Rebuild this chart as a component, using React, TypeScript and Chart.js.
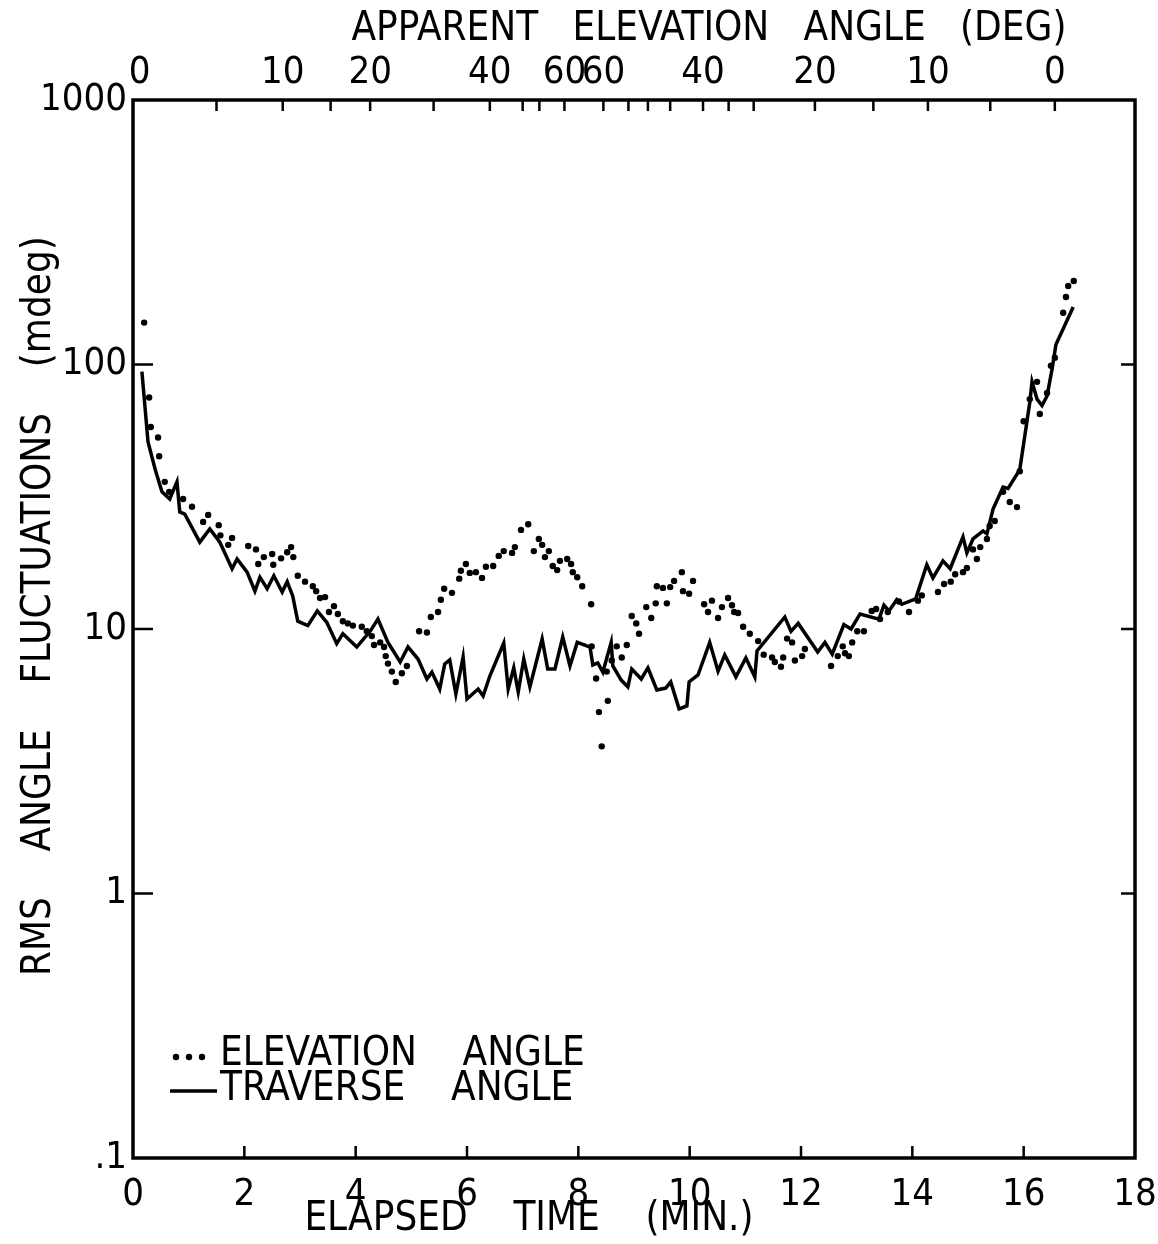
import React, { useEffect, useRef } from 'react';
import { Chart, registerables } from 'chart.js';

Chart.register(...registerables);

const FONT = '"DejaVu Sans Condensed", "DejaVu Sans", sans-serif';

// Elevation angle (dotted) — elapsed time (min) and RMS fluctuation (mdeg)
const elevTimes = [
  0.20, 0.29, 0.32, 0.45, 0.47, 0.57, 0.65, 0.90, 1.06, 1.26,
  1.35, 1.54, 1.57, 1.71, 1.78, 2.07, 2.21, 2.25, 2.35, 2.50,
  2.52, 2.66, 2.77, 2.84, 2.88, 2.96, 3.09, 3.23, 3.29, 3.36,
  3.45, 3.52, 3.61, 3.68, 3.77, 3.86, 3.95, 4.11, 4.20, 4.29,
  4.33, 4.44, 4.51, 4.54, 4.58, 4.65, 4.72, 4.83, 4.92, 5.14,
  5.28, 5.35, 5.48, 5.53, 5.59, 5.73, 5.86, 5.89, 5.98, 6.05,
  6.16, 6.27, 6.34, 6.47, 6.57, 6.66, 6.81, 6.86, 6.97, 7.10,
  7.20, 7.29, 7.35, 7.40, 7.47, 7.54, 7.62, 7.67, 7.80, 7.87,
  7.90, 7.98, 8.07, 8.23, 8.24, 8.32, 8.37, 8.42, 8.51, 8.53,
  8.60, 8.69, 8.78, 8.87, 8.96, 9.04, 9.09, 9.22, 9.31, 9.39,
  9.41, 9.52, 9.59, 9.65, 9.72, 9.86, 9.88, 9.99, 10.06, 10.26,
  10.33, 10.40, 10.51, 10.58, 10.69, 10.76, 10.80, 10.87, 10.96, 11.08,
  11.23, 11.33, 11.48, 11.53, 11.64, 11.68, 11.75, 11.84, 11.89, 12.02,
  12.07, 12.54, 12.66, 12.75, 12.79, 12.86, 12.92, 13.01, 13.13, 13.27,
  13.35, 13.42, 13.56, 13.76, 13.94, 14.10, 14.17, 14.46, 14.57, 14.69,
  14.77, 14.91, 14.98, 15.09, 15.16, 15.22, 15.34, 15.39, 15.48, 15.63,
  15.75, 15.88, 15.93, 16.00, 16.11, 16.24, 16.29, 16.42, 16.49, 16.56,
  16.71, 16.76, 16.80, 16.90,
];
const elevValues = [
  144, 75, 58, 53, 45, 36, 33, 31, 29, 25.4,
  27, 24.7, 22.6, 20.8, 22.1, 20.6, 20, 17.6, 18.7, 19.2,
  17.5, 18.5, 19.5, 20.4, 18.7, 15.9, 15.1, 14.5, 13.9, 13.1,
  13.2, 11.6, 12.2, 11.4, 10.7, 10.5, 10.3, 10.2, 9.8, 9.4,
  8.7, 8.9, 8.55, 7.9, 7.4, 6.9, 6.3, 6.8, 7.25, 9.8,
  9.7, 11.1, 11.6, 12.9, 14.2, 13.7, 15.5, 16.6, 17.6, 16.3,
  16.4, 15.6, 17.2, 17.3, 18.9, 19.7, 19.4, 20.4, 23.7, 24.9,
  19.7, 21.9, 20.8, 18.7, 19.7, 17.3, 16.7, 18.1, 18.4, 17.6,
  16.4, 15.7, 14.5, 12.4, 8.6, 6.5, 4.85, 3.6, 6.9, 5.35,
  7.6, 8.6, 7.8, 8.7, 11.2, 10.5, 9.6, 12.1, 11.0, 12.5,
  14.5, 14.3, 12.5, 14.4, 15.2, 16.4, 13.9, 13.6, 15.2, 12.4,
  11.6, 12.8, 11.0, 12.1, 13.1, 12.3, 11.6, 11.5, 10.2, 9.6,
  9.0, 8.0, 7.8, 7.5, 7.2, 7.8, 9.2, 8.9, 7.6, 7.9,
  8.4, 7.25, 7.9, 8.6, 8.1, 7.9, 8.9, 9.8, 9.8, 11.7,
  11.9, 10.9, 11.6, 12.7, 11.6, 12.8, 13.4, 13.8, 14.8, 15.1,
  16.1, 16.4, 17.0, 20.0, 18.4, 20.4, 21.9, 24.5, 25.6, 33,
  30.2, 28.9, 39.5, 61, 74, 86, 65, 78, 99, 106,
  157, 180, 198, 207,
];

// Traverse angle (solid line)
const travTimes = [
  0.16, 0.27, 0.40, 0.52, 0.66, 0.79, 0.84, 0.93, 1.20, 1.38,
  1.56, 1.78, 1.87, 2.05, 2.19, 2.28, 2.41, 2.53, 2.68, 2.77,
  2.87, 2.96, 3.14, 3.31, 3.48, 3.66, 3.77, 4.02, 4.26, 4.40,
  4.58, 4.80, 4.94, 5.12, 5.28, 5.37, 5.51, 5.60, 5.69, 5.80,
  5.93, 6.00, 6.20, 6.29, 6.41, 6.66, 6.74, 6.84, 6.92, 7.02,
  7.13, 7.35, 7.45, 7.58, 7.72, 7.85, 7.98, 8.21, 8.26, 8.35,
  8.44, 8.59, 8.62, 8.77, 8.89, 8.96, 9.13, 9.25, 9.41, 9.57,
  9.66, 9.81, 9.95, 9.99, 10.15, 10.36, 10.51, 10.63, 10.83, 11.01,
  11.17, 11.21, 11.71, 11.82, 11.95, 12.30, 12.43, 12.56, 12.77, 12.90,
  13.06, 13.40, 13.49, 13.58, 13.72, 13.81, 14.06, 14.26, 14.37, 14.55,
  14.68, 14.91, 14.98, 15.09, 15.27, 15.34, 15.45, 15.63, 15.72, 15.93,
  16.11, 16.15, 16.24, 16.33, 16.42, 16.51, 16.58, 16.89,
];
const travValues = [
  94, 51, 40, 33, 31, 36, 27.7, 27.2, 21.3, 23.9,
  21.3, 16.9, 18.4, 16.4, 13.9, 15.7, 14.2, 15.9, 13.8, 15.1,
  13.3, 10.7, 10.3, 11.7, 10.6, 8.8, 9.6, 8.55, 9.8, 10.9,
  8.9, 7.5, 8.55, 7.7, 6.47, 6.87, 5.93, 7.38, 7.64, 5.68,
  7.84, 5.44, 5.93, 5.58, 6.64, 8.85, 5.93, 7.13, 5.78, 7.7,
  6.04, 9.17, 7.06, 7.06, 9.33, 7.25, 8.9, 8.55, 7.31, 7.44,
  6.87, 8.9, 7.25, 6.41, 6.04, 7.06, 6.47, 7.13, 5.88, 5.98,
  6.31, 4.99, 5.12, 6.31, 6.70, 8.9, 6.93, 7.98, 6.59, 7.77,
  6.59, 8.26, 11.1, 9.8, 10.5, 8.19, 8.9, 8.04, 10.4, 10.0,
  11.4, 10.9, 12.3, 11.7, 12.9, 12.4, 13.0, 17.5, 15.6, 18.1,
  16.9, 22.3, 19.4, 21.9, 23.5, 22.9, 28.4, 34.4, 34, 40,
  72, 86, 74, 70, 76, 96, 119, 165,
];

// Axis ticks
const bottomTickValues = [2, 4, 6, 8, 10, 12, 14, 16];
const yTickValues = [0.1, 1, 10, 100, 1000];
const yTickLabels = ['.1', '1', '10', '100', '1000'];
const yInnerTickValues = [1, 10, 100];
// Top axis: apparent elevation angle, placed at elapsed time (min)
const topLabelTimes = [0.12, 2.69, 4.26, 6.41, 7.75, 8.45, 10.24, 12.25, 14.28, 16.56];
const topLabels = ['0', '10', '20', '40', '60', '60', '40', '20', '10', '0'];
const topMinorTimes = [1.5, 3.55, 5.4, 7.0, 7.3, 8.9, 9.25, 9.65, 10.7, 11.15, 13.3, 15.4];

const xTitle = '               ELAPSED    TIME    (MIN.)';
const x2Title = 'APPARENT   ELEVATION   ANGLE   (DEG)      ';
const yTitle = '    RMS    ANGLE    FLUCTUATIONS    (mdeg)';
const legendLabels = ['ELEVATION    ANGLE', 'TRAVERSE    ANGLE'];

const framePlugin = {
  id: 'frame',
  afterDatasetsDraw(chart: any) {
    const { ctx, chartArea: a, scales } = chart;
    ctx.save();
    ctx.strokeStyle = '#000';
    ctx.fillStyle = '#000';
    ctx.lineWidth = 3.5;
    ctx.strokeRect(a.left, a.top, a.right - a.left, a.bottom - a.top);
    ctx.lineWidth = 2.5;
    const line = (x1: number, y1: number, x2: number, y2: number) => {
      ctx.beginPath();
      ctx.moveTo(x1, y1);
      ctx.lineTo(x2, y2);
      ctx.stroke();
    };
    for (const t of bottomTickValues) {
      const x = scales.x.getPixelForValue(t);
      line(x, a.bottom, x, a.bottom - 12);
    }
    for (const t of [...topLabelTimes.slice(1), ...topMinorTimes]) {
      const x = scales.x2.getPixelForValue(t);
      line(x, a.top, x, a.top + 11);
    }
    for (const v of yInnerTickValues) {
      const y = scales.y.getPixelForValue(v);
      line(a.left, y, a.left + 20, y);
      line(a.right, y, a.right - 14, y);
    }
    // legend inside plot, lower left
    const lx = a.left + 37;
    const ly1 = a.bottom - 103;
    const ly2 = a.bottom - 68;
    for (let i = 0; i < 3; i++) {
      ctx.beginPath();
      ctx.arc(lx + 6 + i * 13, ly1 + 2, 3.2, 0, Math.PI * 2);
      ctx.fill();
    }
    ctx.lineWidth = 3.5;
    line(lx, ly2 + 1, lx + 47, ly2 + 1);
    ctx.font = `40px ${FONT}`;
    ctx.textBaseline = 'middle';
    ctx.textAlign = 'left';
    ctx.fillText(legendLabels[0], lx + 50, ly1);
    ctx.fillText(legendLabels[1], lx + 50, ly2);
    ctx.restore();
  },
};

export default function App() {
  const ref = useRef<HTMLCanvasElement>(null);
  useEffect(() => {
    const canvas = ref.current!;
    const tickFont = { family: FONT, size: 38 };
    const titleFont = { family: FONT, size: 40 };
    const chart = new Chart(canvas, {
      type: 'scatter',
      data: {
        datasets: [
          {
            label: 'ELEVATION ANGLE',
            data: elevTimes.map((t, i) => ({ x: t, y: elevValues[i] })),
            showLine: false,
            pointRadius: 3.2,
            pointBackgroundColor: '#000',
            pointBorderWidth: 0,
            xAxisID: 'x',
            yAxisID: 'y',
          },
          {
            label: 'TRAVERSE ANGLE',
            data: travTimes.map((t, i) => ({ x: t, y: travValues[i] })),
            showLine: true,
            borderColor: '#000',
            borderWidth: 3.5,
            pointRadius: 0,
            tension: 0,
            xAxisID: 'x',
            yAxisID: 'y',
          },
        ],
      },
      options: {
        responsive: false,
        animation: false,
        devicePixelRatio: 1,
        layout: { padding: { left: 0, right: 23, top: 0, bottom: 0 } },
        plugins: { legend: { display: false }, tooltip: { enabled: false } },
        scales: {
          x: {
            type: 'linear',
            position: 'bottom',
            min: 0,
            max: 18,
            grid: { display: false, drawTicks: false },
            border: { display: false },
            ticks: { stepSize: 2, padding: 14, color: '#000', font: tickFont, autoSkip: false, maxRotation: 0 },
            title: { display: true, text: xTitle, align: 'start', color: '#000', font: titleFont, padding: { top: 0, bottom: 0 } },
            afterFit: (s: any) => { s.height = 86; s.paddingLeft = 0; s.paddingRight = 0; },
          },
          x2: {
            type: 'linear',
            position: 'top',
            min: 0,
            max: 18,
            grid: { display: false, drawTicks: false },
            border: { display: false },
            afterBuildTicks: (s: any) => { s.ticks = topLabelTimes.map((v) => ({ value: v })); },
            ticks: {
              callback: (_v: any, i: number) => topLabels[i],
              autoSkip: false,
              maxRotation: 0,
              padding: 4,
              color: '#000',
              font: tickFont,
            },
            title: { display: true, text: x2Title, align: 'end', color: '#000', font: titleFont, padding: { top: 6, bottom: 0 } },
            afterFit: (s: any) => { s.height = 100; s.paddingLeft = 0; s.paddingRight = 0; },
          },
          y: {
            type: 'logarithmic',
            position: 'left',
            min: 0.1,
            max: 1000,
            grid: { display: false, drawTicks: false },
            border: { display: false },
            afterBuildTicks: (s: any) => { s.ticks = yTickValues.map((v) => ({ value: v })); },
            ticks: {
              callback: (_v: any, i: number) => yTickLabels[i],
              autoSkip: false,
              padding: 6,
              color: '#000',
              font: tickFont,
            },
            title: { display: true, text: yTitle, color: '#000', font: titleFont, padding: { top: 16, bottom: 0 } },
            afterFit: (s: any) => { s.width = 133; s.paddingTop = 0; s.paddingBottom = 0; },
          },
        },
      },
      plugins: [framePlugin],
    } as any);
    return () => chart.destroy();
  }, []);
  return (
    <div style={{ position: 'absolute', left: 0, top: 0, width: 1158, height: 1244, background: '#fff' }}>
      <canvas ref={ref} width={1158} height={1244} style={{ width: 1158, height: 1244, display: 'block' }} />
    </div>
  );
}
